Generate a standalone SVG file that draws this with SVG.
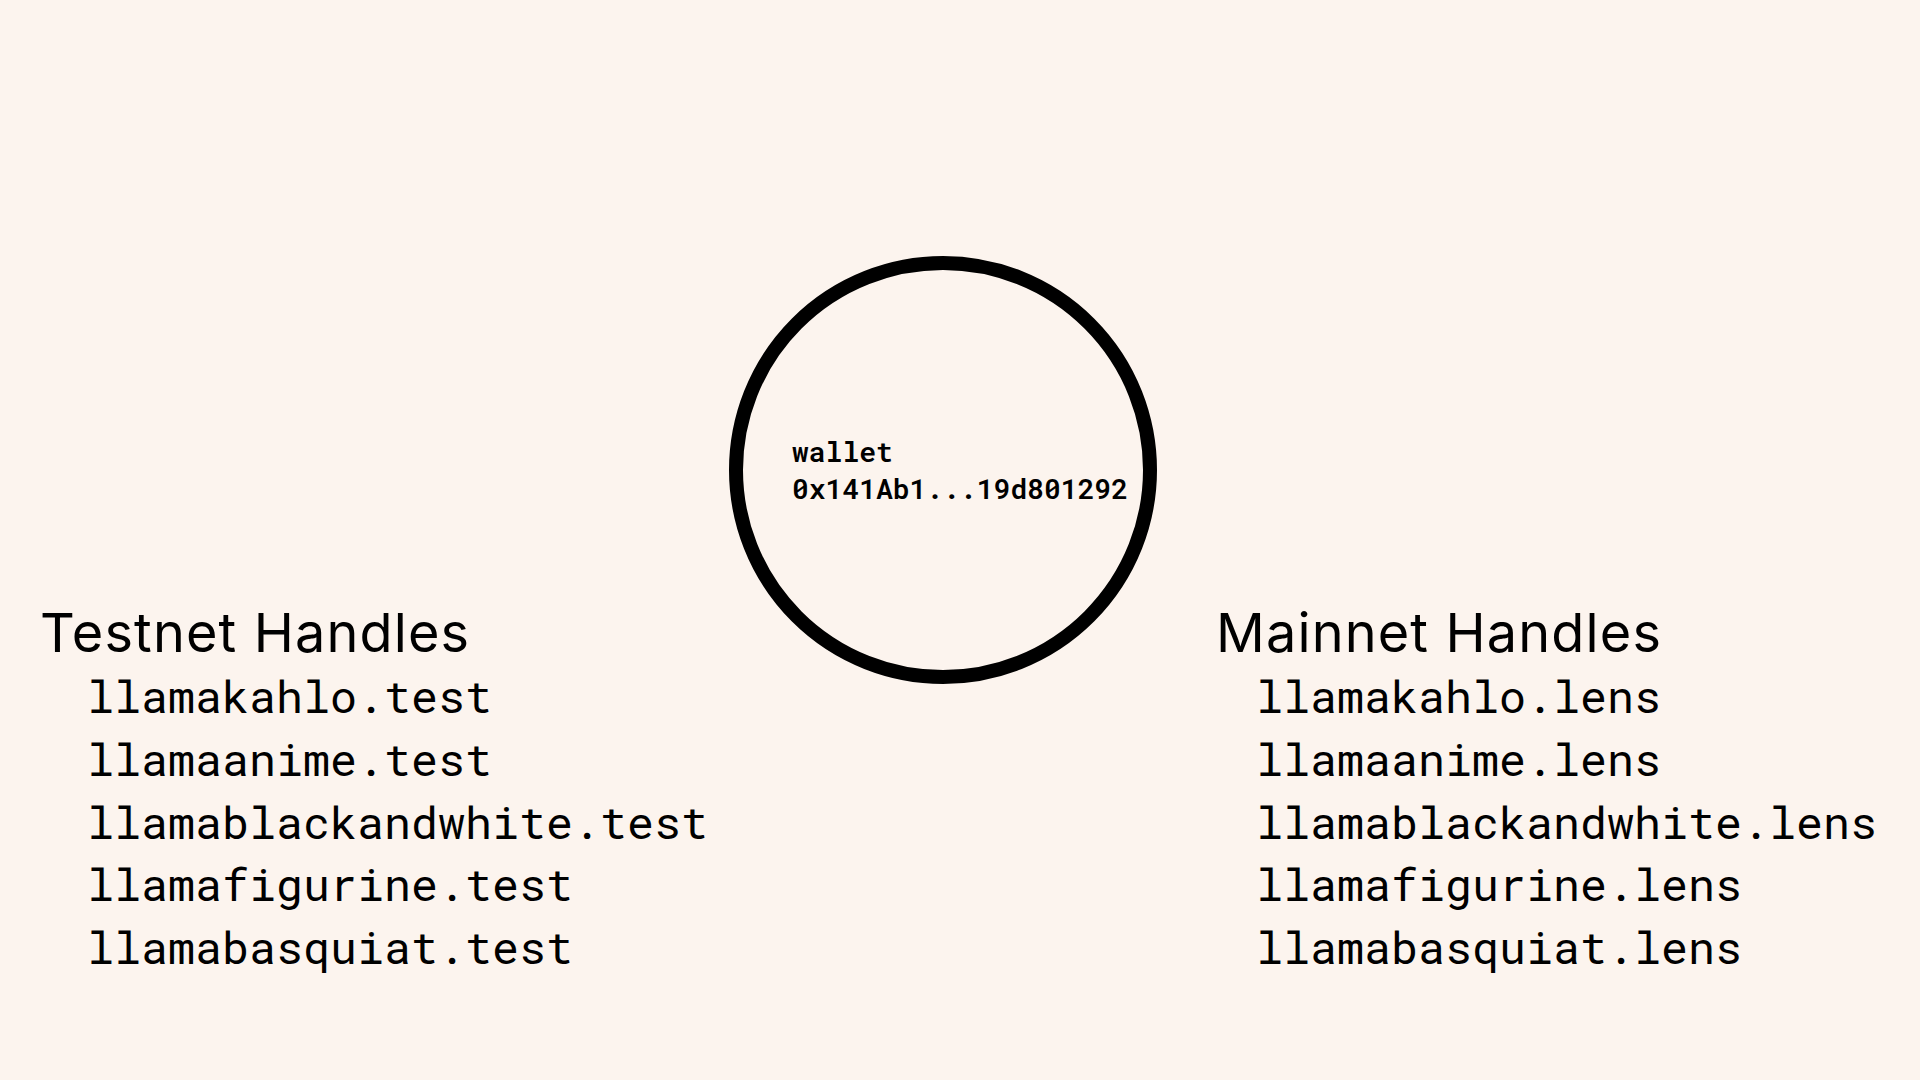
<svg xmlns="http://www.w3.org/2000/svg" width="1920" height="1080" viewBox="0 0 1920 1080">
<style>
.bg{fill:#FCF4EE}
.ring{fill:none;stroke:#000;stroke-width:14}
.wal{font-family:"Roboto Mono","DejaVu Sans Mono",monospace;font-weight:600;font-size:28px;fill:#000}
.head{font-family:Inter,"Liberation Sans",sans-serif;font-size:54px;fill:#000;letter-spacing:1.15px}
.item{font-family:"Roboto Mono","DejaVu Sans Mono",monospace;font-weight:400;font-size:45px;fill:#000}
</style>
<rect class="bg" x="0" y="0" width="1920" height="1080"/>
<g id="connectors"></g>
<g id="wallet">
<circle class="ring" cx="943" cy="470" r="207"/>
<text class="wal" x="792" y="462">wallet</text>
<text class="wal" x="792" y="499">0x141Ab1...19d801292</text>
</g>
<g id="testnet">
<text class="head" x="40" y="652">Testnet Handles</text>
<text class="item" x="87" y="713">llamakahlo.test</text>
<text class="item" x="87" y="776">llamaanime.test</text>
<text class="item" x="87" y="839">llamablackandwhite.test</text>
<text class="item" x="87" y="901">llamafigurine.test</text>
<text class="item" x="87" y="964">llamabasquiat.test</text>
</g>
<g id="mainnet">
<text class="head" x="1216" y="652">Mainnet Handles</text>
<text class="item" x="1256" y="713">llamakahlo.lens</text>
<text class="item" x="1256" y="776">llamaanime.lens</text>
<text class="item" x="1256" y="839">llamablackandwhite.lens</text>
<text class="item" x="1256" y="901">llamafigurine.lens</text>
<text class="item" x="1256" y="964">llamabasquiat.lens</text>
</g>
</svg>
